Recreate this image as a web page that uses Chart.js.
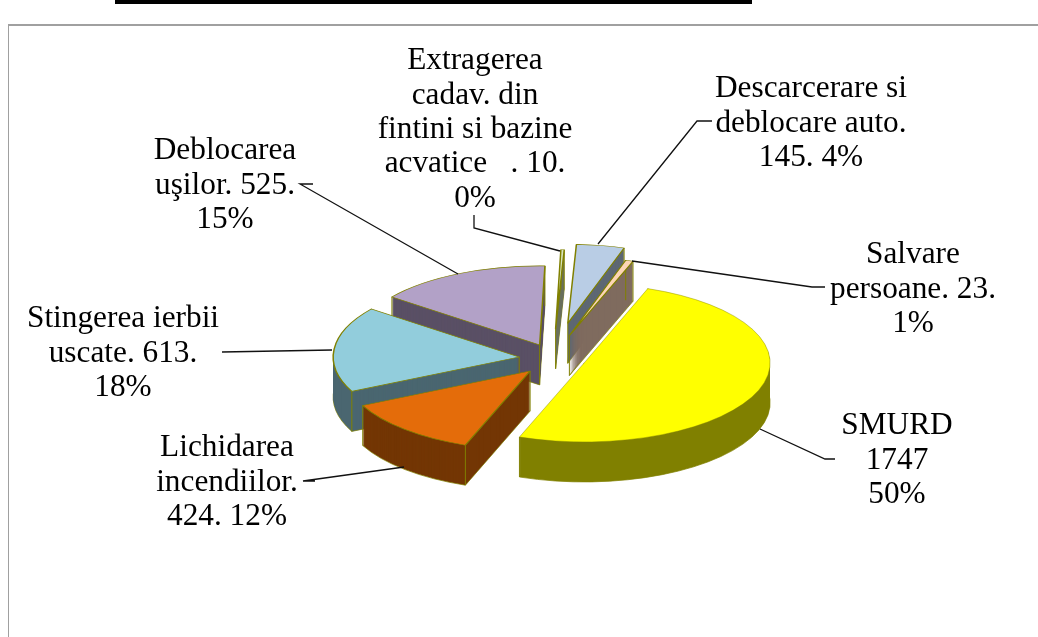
<!DOCTYPE html>
<html>
<head>
<meta charset="utf-8">
<title>Pie</title>
<script src="https://cdn.jsdelivr.net/npm/chart.js@4/dist/chart.umd.min.js"></script>
<style>
  html, body { margin: 0; padding: 0; background: #fff; overflow: hidden; }
  #wrap { position: relative; width: 1038px; height: 637px; }
  #bar { position: absolute; left: 115px; top: 0; width: 637px; height: 4px; background: #000; }
  #frame { position: absolute; left: 8px; top: 24px; right: 0; bottom: 0; border-left: 1px solid #a0a0a0; border-top: 2px solid #a0a0a0; }
  canvas { position: absolute; left: 0; top: 0; }
</style>
</head>
<body>
<div id="wrap">
  <div id="bar"></div>
  <div id="frame"></div>
  <canvas id="c" width="1038" height="637"></canvas>
</div>
<script>
// data
var categories = ["SMURD", "Lichidarea incendiilor", "Stingerea ierbii uscate", "Deblocarea uşilor",
    "Extragerea cadav. din fintini si bazine acvatice", "Descarcerare si deblocare auto", "Salvare persoane"];
var values = [1747, 424, 613, 525, 10, 145, 23];
var labelLines = [
    ["SMURD", "1747", "50%"],
    ["Lichidarea", "incendiilor.", "424. 12%"],
    ["Stingerea ierbii", "uscate. 613.", "18%"],
    ["Deblocarea", "uşilor. 525.", "15%"],
    ["Extragerea", "cadav. din", "fintini si bazine", "acvatice   . 10.", "0%"],
    ["Descarcerare si", "deblocare auto.", "145. 4%"],
    ["Salvare", "persoane. 23.", "1%"]
];

// styles
var topColors = ["#ffff00", "#e46c0a", "#92cddc", "#b2a1c7", "#d7e4bd", "#b9cde5", "#fcd5b5"];
var sideColors = ["#808000", "#733604", "#4a6670", "#5a5065", "#6b725e", "#5d6773", "#7f6b5e"];
var edgeColor = "#808000";
var explode = [30, 40, 37, 38, 70, 84, 57];
// far slices lean in a little, the reference has some perspective
var leanX = [0, 1, 0, 0, -3, -3, -5];
var leanY = [0, 0, 0, 1, 0, 0, 0];
var squash = 0.425;
var depth = 40;
var drawOrder = [5, 4, 6, 3, 2, 1, 0];
// center x of the text block, first line center y
var labelPos = [[897, 426], [227, 448], [123, 319], [225, 151], [475, 61], [811, 89], [913, 255]];
var lineHeight = 34.4;
var leaders = [
    [[835, 459], [825, 459], [760, 429]],
    [[315, 481], [303, 481], [404, 467]],
    [[222, 352], [222, 352], [332, 350]],
    [[313, 184], [300, 184], [458, 274]],
    [[474, 215], [474, 228], [560, 251]],
    [[712, 121], [697, 121], [598, 244]],
    [[825, 287], [812, 287], [632, 261]]
];

function arcOpts(fill, bw) {
    return {
        backgroundColor: fill, borderColor: edgeColor, borderWidth: bw,
        borderAlign: "center", borderJoinStyle: "round", borderRadius: 0,
        spacing: 0, offset: 0, circular: true, borderDash: [], borderDashOffset: 0
    };
}

function sliceShift(el, i) {
    var mid = (el.startAngle + el.endAngle) / 2;
    return { x: Math.cos(mid) * explode[i] + leanX[i], y: Math.sin(mid) * explode[i] + leanY[i] / squash };
}

function drawFace(ctx, el, i, dy, fill, bw) {
    var s = sliceShift(el, i);
    var saved = el.options;
    el.options = arcOpts(fill, bw);
    ctx.save();
    ctx.translate(0, dy);
    ctx.translate(el.x, el.y);
    ctx.scale(1, squash);
    ctx.translate(-el.x, -el.y);
    ctx.translate(s.x, s.y);
    el.draw(ctx);
    ctx.restore();
    el.options = saved;
}

function drawEdges(ctx, el, i) {
    var s = sliceShift(el, i);
    var pts = [[0, 0],
        [Math.cos(el.startAngle) * el.outerRadius, Math.sin(el.startAngle) * el.outerRadius],
        [Math.cos(el.endAngle) * el.outerRadius, Math.sin(el.endAngle) * el.outerRadius]];
    ctx.save();
    ctx.strokeStyle = edgeColor;
    ctx.lineWidth = 1;
    pts.forEach(function (p) {
        var x = el.x + s.x + p[0];
        var y = el.y + (s.y + p[1]) * squash;
        ctx.beginPath();
        ctx.moveTo(x, y);
        ctx.lineTo(x, y + depth);
        ctx.stroke();
    });
    ctx.restore();
}

var pie3d = {
    id: "pie3d",
    beforeDatasetDraw: function (chart, args) {
        var ctx = chart.ctx;
        var arcs = args.meta.data;
        drawOrder.forEach(function (i) {
            var el = arcs[i];
            for (var d = depth; d > 0; d--) {
                drawFace(ctx, el, i, d, sideColors[i], d === depth ? 1 : 0);
            }
            drawEdges(ctx, el, i);
            drawFace(ctx, el, i, 0, topColors[i], i === 0 ? 0.6 : 1.5);
        });
        return false;
    },
    afterDraw: function (chart) {
        var ctx = chart.ctx;
        ctx.save();
        ctx.strokeStyle = "#111";
        ctx.lineWidth = 1.3;
        leaders.forEach(function (l) {
            ctx.beginPath();
            ctx.moveTo(l[0][0], l[0][1]);
            ctx.lineTo(l[1][0], l[1][1]);
            ctx.lineTo(l[2][0], l[2][1]);
            ctx.stroke();
        });
        ctx.fillStyle = "#000";
        ctx.font = "31.3px 'Liberation Serif'";
        ctx.textAlign = "center";
        ctx.textBaseline = "middle";
        labelLines.forEach(function (lines, i) {
            lines.forEach(function (t, n) {
                ctx.fillText(t, labelPos[i][0], labelPos[i][1] + n * lineHeight);
            });
        });
        ctx.restore();
    }
};

new Chart(document.getElementById("c"), {
    type: "pie",
    data: {
        labels: categories,
        datasets: [{ data: values, backgroundColor: topColors, borderColor: edgeColor, borderWidth: 1 }]
    },
    options: {
        responsive: false,
        animation: false,
        rotation: 20,
        layout: { padding: { top: 172, bottom: 92, left: 74, right: 0 } },
        plugins: { legend: { display: false }, tooltip: { enabled: false } }
    },
    plugins: [pie3d]
});
</script>
</body>
</html>
